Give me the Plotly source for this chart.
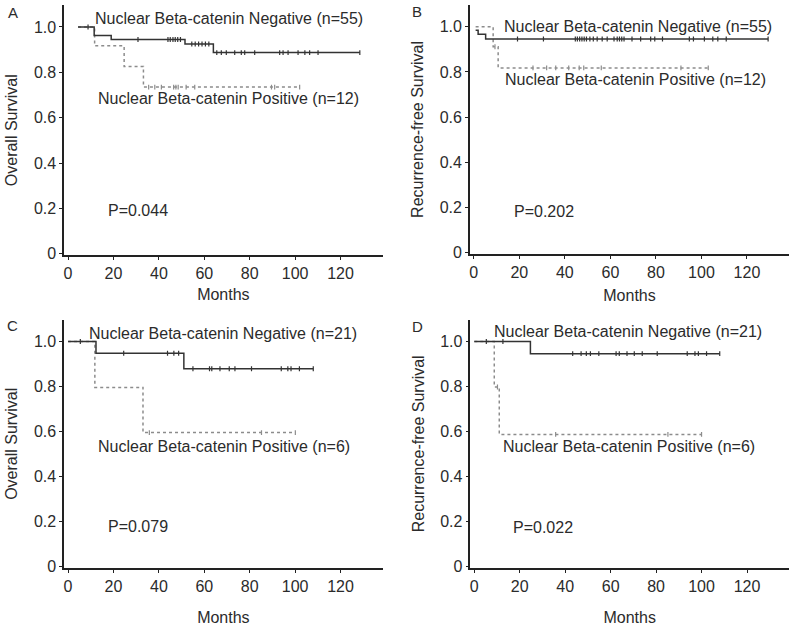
import numpy as np
import plotly.graph_objects as go

# ---------------- data ----------------
# Panel A – Overall survival, cohort 1
a_neg_t = [4.4, 11.5, 19.0, 51.5, 64.0]
a_neg_s = [1.0, 0.963, 0.945, 0.925, 0.887]
a_neg_end = 128.5
a_neg_cens = [8.8, 30.8, 44.0, 45.0, 46.2, 47.2, 48.3, 49.5, 54.5, 56.0, 57.5, 59.0, 60.5, 62.0,
              65.5, 67.5, 69.7, 73.4, 76.3, 77.8, 82.2, 93.2, 94.7, 96.9, 101.3, 104.3, 106.4, 110.1, 128.5]
a_pos_t = [4.4, 11.7, 24.7, 33.2]
a_pos_s = [1.0, 0.917, 0.826, 0.735]
a_pos_end = 102.0
a_pos_cens = [35.5, 38.2, 41.1, 46.5, 47.5, 48.5, 52.0, 55.8, 89.6, 91.0, 102.0]

# Panel B – Recurrence-free survival, cohort 1
b_neg_t = [0.8, 1.9, 5.2]
b_neg_s = [0.985, 0.967, 0.946]
b_neg_end = 129.3
b_neg_cens = [19.2, 30.6, 44.6, 45.5, 46.5, 47.5, 48.5, 49.5, 51.0, 52.5, 54.2, 56.4, 58.6, 61.6, 63.0,
              64.0, 65.0, 66.0, 69.5, 73.3, 77.7, 79.5, 82.9, 94.7, 96.5, 101.3, 105.0, 107.2, 110.9, 129.3]
b_pos_t = [0.8, 8.5, 10.7]
b_pos_s = [1.0, 0.912, 0.818]
b_pos_end = 103.0
b_pos_cens = [9.3, 26.0, 32.0, 36.0, 41.7, 46.3, 48.3, 56.0, 91.0, 103.0]

# Panel C – Overall survival, cohort 2
c_neg_t = [0.0, 12.3, 51.0]
c_neg_s = [1.0, 0.948, 0.879]
c_neg_end = 108.0
c_neg_cens = [5.4, 24.5, 43.8, 46.6, 48.7, 55.0, 62.3, 63.3, 66.9, 71.0, 73.5, 80.8,
              93.9, 96.8, 98.2, 101.9, 108.0]
c_pos_t = [0.0, 11.8, 33.0]
c_pos_s = [1.0, 0.796, 0.595]
c_pos_end = 100.1
c_pos_cens = [35.8, 85.2, 100.1]

# Panel D – Recurrence-free survival, cohort 2
d_neg_t = [0.0, 24.7]
d_neg_s = [1.0, 0.946]
d_neg_end = 108.0
d_neg_cens = [5.3, 12.6, 43.3, 47.0, 49.3, 51.1, 54.8, 62.4, 63.8, 67.2, 70.4, 73.9, 80.5,
              93.7, 97.1, 98.6, 102.2, 108.0]
d_pos_t = [0.0, 8.8, 11.0]
d_pos_s = [1.0, 0.798, 0.587]
d_pos_end = 100.0
d_pos_cens = [10.2, 35.8, 85.2, 100.0]

x_ticks = [0, 20, 40, 60, 80, 100, 120]
y_ticks = [0, 0.2, 0.4, 0.6, 0.8, 1.0]
y_ticktext = ["0", "0.2", "0.4", "0.6", "0.8", "1.0"]

panel_letters = ["A", "B", "C", "D"]
y_titles = ["Overall Survival", "Recurrence-free Survival", "Overall Survival", "Recurrence-free Survival"]
x_title = "Months"
neg_labels = ["Nuclear Beta-catenin Negative (n=55)", "Nuclear Beta-catenin Negative (n=55)",
              "Nuclear Beta-catenin Negative (n=21)", "Nuclear Beta-catenin Negative (n=21)"]
pos_labels = ["Nuclear Beta-catenin Positive (n=12)", "Nuclear Beta-catenin Positive (n=12)",
              "Nuclear Beta-catenin Positive (n=6)", "Nuclear Beta-catenin Positive (n=6)"]
p_values = ["P=0.044", "P=0.202", "P=0.079", "P=0.022"]

# ---------------- figure ----------------
FONT = "Liberation Sans, Arial, Helvetica, sans-serif"
TXT = "#2b2b2b"
NEG_COL = "#333333"
POS_COL = "#8c8c8c"

fig = go.Figure()

panels = [
    dict(neg=(a_neg_t, a_neg_s, a_neg_end, a_neg_cens), pos=(a_pos_t, a_pos_s, a_pos_end, a_pos_cens)),
    dict(neg=(b_neg_t, b_neg_s, b_neg_end, b_neg_cens), pos=(b_pos_t, b_pos_s, b_pos_end, b_pos_cens)),
    dict(neg=(c_neg_t, c_neg_s, c_neg_end, c_neg_cens), pos=(c_pos_t, c_pos_s, c_pos_end, c_pos_cens)),
    dict(neg=(d_neg_t, d_neg_s, d_neg_end, d_neg_cens), pos=(d_pos_t, d_pos_s, d_pos_end, d_pos_cens)),
]

x_domains = [[0.0791, 0.4775], [0.5869, 0.9863], [0.0791, 0.4775], [0.5875, 0.9863]]
y_domains = [[0.590, 0.992], [0.5925, 0.992], [0.0884, 0.4868], [0.0884, 0.4868]]
x_standoffs = [7, 10, 18, 18]

# annotation positions (data coordinates) for each panel
neg_pos = [(11.0, 1.039), (12.2, 1.003), (8.4, 1.037), (7.8, 1.045)]
pos_pos = [(12.5, 0.683), (12.9, 0.767), (12.4, 0.534), (11.7, 0.534)]
p_pos = [(16.9, 0.189), (16.6, 0.183), (16.8, 0.178), (16.0, 0.174)]
letter_pos = [(12, 13), (417, 12), (12, 329), (417, 330)]


def km_step(t, s, end):
    xs = list(t) + [end]
    ys = list(s) + [s[-1]]
    return xs, ys


def km_at(t, s, c):
    t = np.asarray(t)
    s = np.asarray(s)
    idx = np.searchsorted(t, np.asarray(c), side="right") - 1
    idx = np.clip(idx, 0, len(s) - 1)
    return s[idx]


annotations = []
for i, p in enumerate(panels):
    ax = "" if i == 0 else str(i + 1)
    xref, yref = "x" + ax, "y" + ax
    for key, col, dash in (("pos", POS_COL, "dot"), ("neg", NEG_COL, "solid")):
        t, s, end, cens = p[key]
        xs, ys = km_step(t, s, end)
        fig.add_trace(go.Scatter(x=xs, y=ys, mode="lines", line=dict(color=col, width=1.5, dash=dash, shape="hv"),
                                 xaxis=xref, yaxis=yref, showlegend=False, hoverinfo="skip"))
        fig.add_trace(go.Scatter(x=cens, y=km_at(t, s, cens), mode="markers",
                                 marker=dict(symbol="line-ns", size=3.5, line=dict(color=col, width=1.2)),
                                 xaxis=xref, yaxis=yref, showlegend=False, hoverinfo="skip"))

    axis_common = dict(showgrid=False, zeroline=False, showline=True, linecolor="#222222", linewidth=1.6,
                       ticks="outside", ticklen=3, tickwidth=1, tickcolor="#222222",
                       tickfont=dict(family=FONT, size=16, color=TXT))
    fig.layout["xaxis" + ax] = dict(axis_common, domain=x_domains[i], range=[-1.7, 138.5],
                                    tickvals=x_ticks, anchor=yref,
                                    title=dict(text=x_title, font=dict(family=FONT, size=16, color=TXT),
                                               standoff=x_standoffs[i]))
    fig.layout["yaxis" + ax] = dict(axis_common, domain=y_domains[i], range=[-0.007, 1.097],
                                    tickvals=y_ticks, ticktext=y_ticktext, anchor=xref,
                                    title=dict(text=y_titles[i], font=dict(family=FONT, size=16, color=TXT), standoff=12))

    for (xx, yy), txt in ((neg_pos[i], neg_labels[i]), (pos_pos[i], pos_labels[i]), (p_pos[i], p_values[i])):
        annotations.append(dict(x=xx, y=yy, xref=xref, yref=yref, text=txt, showarrow=False,
                                xanchor="left", yanchor="middle",
                                font=dict(family=FONT, size=16, color=TXT)))
    lx, ly = letter_pos[i]
    annotations.append(dict(x=lx / 800, y=1 - ly / 630, xref="paper", yref="paper", text=panel_letters[i],
                            showarrow=False, xanchor="center", yanchor="middle",
                            font=dict(family=FONT, size=15, color=TXT)))

fig.update_layout(width=800, height=630, autosize=False, margin=dict(l=0, r=0, t=0, b=0),
                  paper_bgcolor="white", plot_bgcolor="white", annotations=annotations)

fig.write_html("out.html", config={"displayModeBar": False},
               post_script="document.body.style.margin='0';document.body.style.overflow='hidden';")
